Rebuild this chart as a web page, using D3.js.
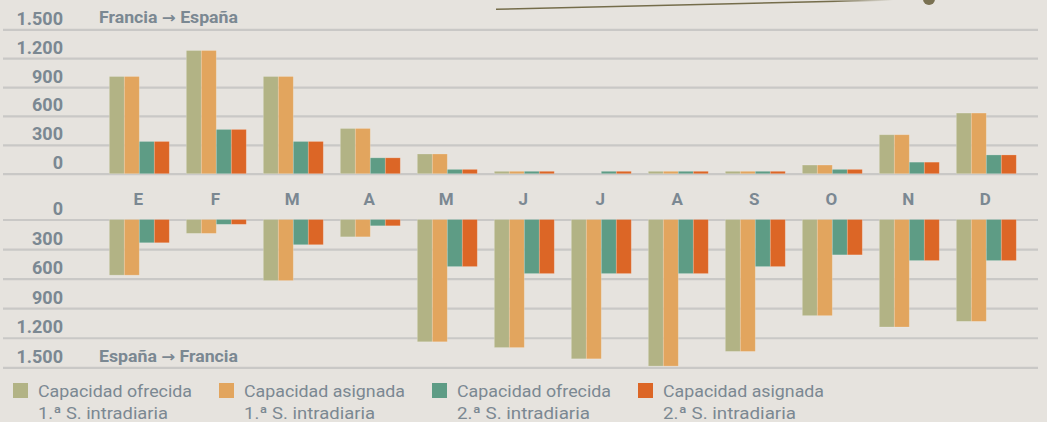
<!DOCTYPE html>
<html><head><meta charset="utf-8">
<script src="https://cdn.jsdelivr.net/npm/d3@7"></script>
<style>html,body{margin:0;padding:0;background:#e6e3de;} svg{display:block}</style>
</head><body>
<svg id="c" width="1047" height="422"></svg>
<script>
const months = ["E","F","M","A","M","J","J","A","S","O","N","D"];
const seriesNames = ["Capacidad ofrecida 1.ª S. intradiaria","Capacidad asignada 1.ª S. intradiaria","Capacidad ofrecida 2.ª S. intradiaria","Capacidad asignada 2.ª S. intradiaria"];
const legendLine1 = ["Capacidad ofrecida","Capacidad asignada","Capacidad ofrecida","Capacidad asignada"];
const legendLine2 = ["1.ª S. intradiaria","1.ª S. intradiaria","2.ª S. intradiaria","2.ª S. intradiaria"];
const colors = ["#b2b385","#e2a55e","#5e9c85","#dc6626"];
// Francia -> España
const frEsOfrecida1 = [1010,1280,1010,470,205,25,0,25,25,90,405,630];
const frEsAsignada1 = [1010,1280,1010,470,205,25,0,25,25,90,405,630];
const frEsOfrecida2 = [335,460,335,165,45,25,25,25,25,45,120,195];
const frEsAsignada2 = [335,460,335,165,45,25,25,25,25,45,120,195];
// España -> Francia
const esFrOfrecida1 = [565,141,620,176,1241,1300,1414,1488,1339,976,1091,1034];
const esFrAsignada1 = [565,141,620,176,1241,1300,1414,1488,1339,976,1091,1034];
const esFrOfrecida2 = [236,49,256,64,478,549,549,549,478,359,417,417];
const esFrAsignada2 = [236,49,256,64,478,549,549,549,478,359,417,417];
const tickValues = [0,300,600,900,1200,1500];
const tickLabels = ["0","300","600","900","1.200","1.500"];
const titleTop = ["Francia", "España"];
const titleBot = ["España", "Francia"];

const topSeries = [frEsOfrecida1, frEsAsignada1, frEsOfrecida2, frEsAsignada2];
const botSeries = [esFrOfrecida1, esFrAsignada1, esFrOfrecida2, esFrAsignada2];

const textColor = "#7b8892";
const svg = d3.select("#c");

// decorative leader line
const defs = svg.append("defs");
const grad = defs.append("linearGradient").attr("id","fade").attr("gradientUnits","userSpaceOnUse")
  .attr("x1",496).attr("y1",0).attr("x2",893).attr("y2",0);
grad.append("stop").attr("offset","0").attr("stop-color","#756d4b");
grad.append("stop").attr("offset","0.85").attr("stop-color","#756d4b");
grad.append("stop").attr("offset","1").attr("stop-color","#756d4b").attr("stop-opacity",0);
svg.append("path").attr("d","M496,9.3 L893,0").attr("stroke","url(#fade)").attr("stroke-width",1.6).attr("fill","none");
svg.append("circle").attr("cx",929).attr("cy",-1).attr("r",6).attr("fill","#7a7152");

const x = d3.scaleBand().domain(d3.range(months.length)).range([100.8, 100.8 + 924])
  .paddingInner(17/77).paddingOuter(17/77/2);
const xs = d3.scaleBand().domain(d3.range(4)).range([0, x.bandwidth()]);

const yTop = d3.scaleLinear().domain([0,1500]).range([173.7, 29.3]);
const yBot = d3.scaleLinear().domain([0,1500]).range([219.5, 367.3]);

function drawAxis(scale) {
  const g = svg.append("g").attr("transform","translate(3,0)")
    .call(d3.axisRight(scale).tickValues(tickValues).tickSize(1035).tickFormat((d,i)=>tickLabels[i]));
  g.select(".domain").remove();
  g.selectAll(".tick line").attr("stroke","#c9c8c6").attr("stroke-width",2.2);
  g.selectAll(".tick text").attr("x",60).attr("dy","-0.28em").attr("text-anchor","end")
    .attr("fill",textColor).attr("font-family","Roboto, 'Liberation Sans', sans-serif")
    .attr("font-weight","bold").attr("font-size",18);
}
drawAxis(yTop);
drawAxis(yBot);

// panel titles
function title(y, parts) {
  const t = svg.append("text").attr("x",99).attr("y",y)
    .attr("textLength",139).attr("lengthAdjust","spacingAndGlyphs")
    .attr("fill",textColor).attr("font-family","Roboto, sans-serif").attr("font-weight","bold").attr("font-size",16);
  t.append("tspan").text(parts[0] + " ");
  t.append("tspan").text("→").attr("font-family","'DejaVu Sans', sans-serif").attr("font-size",15);
  t.append("tspan").text(" " + parts[1]);
}
title(23, titleTop);
title(361.5, titleBot);

// bars
topSeries.forEach((arr, s) => {
  svg.append("g").selectAll("rect").data(arr).join("rect")
    .attr("x",(d,i)=>x(i)+xs(s)).attr("width",xs.bandwidth())
    .attr("y",d=>yTop(d)).attr("height",d=>yTop(0)-yTop(d))
    .attr("fill",colors[s]).attr("stroke","#ffffff").attr("stroke-opacity",0.25).attr("stroke-width",0.8);
});
botSeries.forEach((arr, s) => {
  svg.append("g").selectAll("rect").data(arr).join("rect")
    .attr("x",(d,i)=>x(i)+xs(s)).attr("width",xs.bandwidth())
    .attr("y",yBot(0)).attr("height",d=>yBot(d)-yBot(0))
    .attr("fill",colors[s]).attr("stroke","#ffffff").attr("stroke-opacity",0.25).attr("stroke-width",0.8);
});

// month labels
svg.append("g").selectAll("text").data(months).join("text")
  .attr("x",(d,i)=>x(i)+x.bandwidth()/2 - 1).attr("y",205).attr("text-anchor","middle")
  .text(d=>d).attr("fill",textColor).attr("font-family","Roboto, sans-serif")
  .attr("font-weight","bold").attr("font-size",17);

// legend
const legX = [13, 219, 432, 638];
const len1 = [154, 161, 154, 161];
const len2 = [130, 131, 133, 133];
const lg = svg.append("g").selectAll("g").data(d3.range(4)).join("g")
  .attr("transform",(d)=>`translate(${legX[d]},0)`);
lg.append("rect").attr("x",0).attr("y",383).attr("width",15).attr("height",15).attr("fill",d=>colors[d]);
lg.append("text").attr("x",25).attr("y",397).text(d=>legendLine1[d])
  .attr("textLength",d=>len1[d]).attr("lengthAdjust","spacingAndGlyphs")
  .attr("fill",textColor).attr("font-family","Roboto, sans-serif").attr("font-size",17);
lg.append("text").attr("x",25).attr("y",419).text(d=>legendLine2[d])
  .attr("textLength",d=>len2[d]).attr("lengthAdjust","spacingAndGlyphs")
  .attr("fill",textColor).attr("font-family","Roboto, sans-serif").attr("font-size",17);
</script>
</body></html>
